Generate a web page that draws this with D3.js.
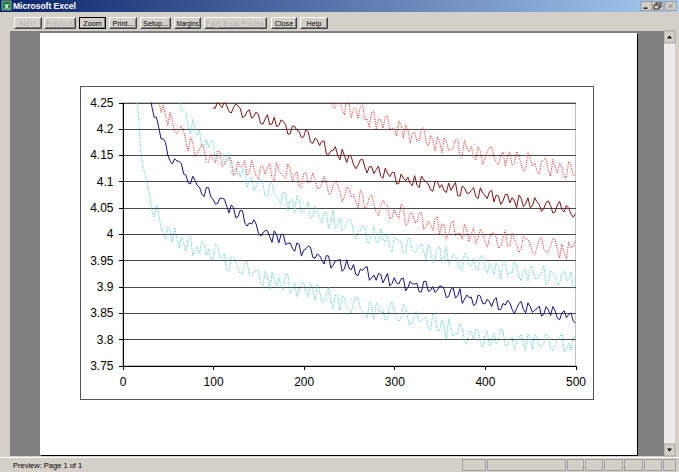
<!DOCTYPE html>
<html>
<head>
<meta charset="utf-8">
<script src="https://cdn.jsdelivr.net/npm/d3@7"></script>
<style>
  body { margin: 0; overflow: hidden; background: #d4d0c8; }
  svg { display: block; }
</style>
</head>
<body>
<svg id="win"></svg>
<script>
// ---- data ----
// every series: values at start, start+5, ... and the in-between values at start+2.5, start+7.5, ...
const step = 5;
const xTicks = [0, 100, 200, 300, 400, 500];
const yTicks = [3.75, 3.8, 3.85, 3.9, 3.95, 4, 4.05, 4.1, 4.15, 4.2, 4.25];
const yTickLabels = ["3.75", "3.8", "3.85", "3.9", "3.95", "4", "4.05", "4.1", "4.15", "4.2", "4.25"];

const navyStart = 30;
const navyValues = [4.276, 4.222, 4.203, 4.181, 4.150, 4.133, 4.139, 4.134, 4.112, 4.095,
  4.102, 4.089, 4.071, 4.088, 4.066, 4.058, 4.068, 4.053, 4.055, 4.031,
  4.045, 4.021, 4.021, 4.027, 4.002, 4.002, 4.006, 3.984, 3.999, 3.999,
  3.980, 3.983, 3.967, 3.980, 3.969, 3.977, 3.956, 3.962, 3.951, 3.959,
  3.935, 3.949, 3.952, 3.934, 3.935, 3.942, 3.921, 3.931, 3.938, 3.917,
  3.912, 3.923, 3.916, 3.901, 3.917, 3.905, 3.916, 3.898, 3.905, 3.906,
  3.890, 3.910, 3.893, 3.889, 3.901, 3.895, 3.881, 3.898, 3.883, 3.868,
  3.884, 3.880, 3.867, 3.882, 3.867, 3.871, 3.875, 3.856, 3.868, 3.874,
  3.857, 3.858, 3.872, 3.850, 3.862, 3.855, 3.863, 3.847, 3.856, 3.862,
  3.840, 3.850, 3.841, 3.850, 3.830];
const navyMid = [4.241, 4.222, 4.181, 4.174, 4.139, 4.143, 4.138, 4.114, 4.097, 4.110,
  4.092, 4.076, 4.088, 4.070, 4.057, 4.068, 4.066, 4.040, 4.050, 4.033,
  4.044, 4.015, 4.019, 4.019, 3.996, 4.007, 3.995, 4.006, 3.983, 3.999,
  3.982, 3.973, 3.983, 3.958, 3.972, 3.975, 3.954, 3.959, 3.943, 3.958,
  3.941, 3.949, 3.929, 3.951, 3.932, 3.923, 3.933, 3.936, 3.912, 3.922,
  3.925, 3.907, 3.925, 3.906, 3.907, 3.915, 3.892, 3.910, 3.905, 3.890,
  3.910, 3.891, 3.900, 3.893, 3.901, 3.879, 3.895, 3.878, 3.896, 3.876,
  3.879, 3.864, 3.884, 3.868, 3.876, 3.862, 3.879, 3.857, 3.865, 3.869,
  3.849, 3.868, 3.857, 3.869, 3.851, 3.858, 3.844, 3.862, 3.845, 3.854,
  3.837, 3.854, 3.847, 3.835];

const maroonStart = 100;
const maroonValues = [4.240, 4.254, 4.240, 4.244, 4.230, 4.248, 4.239, 4.224, 4.236, 4.224,
  4.227, 4.209, 4.227, 4.209, 4.204, 4.217, 4.208, 4.190, 4.205, 4.195,
  4.185, 4.194, 4.172, 4.179, 4.176, 4.152, 4.158, 4.166, 4.141, 4.149,
  4.150, 4.132, 4.131, 4.142, 4.116, 4.128, 4.122, 4.110, 4.125, 4.109,
  4.117, 4.096, 4.106, 4.108, 4.092, 4.093, 4.110, 4.099, 4.084, 4.100,
  4.088, 4.082, 4.097, 4.091, 4.073, 4.091, 4.078, 4.083, 4.071, 4.088,
  4.074, 4.080, 4.061, 4.072, 4.063, 4.075, 4.069, 4.050, 4.068, 4.057,
  4.050, 4.069, 4.056, 4.048, 4.063, 4.040, 4.055, 4.046, 4.054, 4.038,
  4.039];
const maroonMid = [4.239, 4.245, 4.253, 4.233, 4.240, 4.243, 4.221, 4.233, 4.220, 4.232,
  4.210, 4.219, 4.208, 4.222, 4.206, 4.214, 4.190, 4.205, 4.197, 4.183,
  4.199, 4.175, 4.182, 4.168, 4.177, 4.151, 4.159, 4.149, 4.161, 4.136,
  4.147, 4.124, 4.141, 4.127, 4.128, 4.115, 4.129, 4.106, 4.116, 4.117,
  4.095, 4.114, 4.101, 4.096, 4.111, 4.088, 4.103, 4.095, 4.081, 4.100,
  4.094, 4.079, 4.083, 4.098, 4.072, 4.088, 4.077, 4.088, 4.067, 4.078,
  4.067, 4.083, 4.074, 4.056, 4.075, 4.059, 4.063, 4.074, 4.052, 4.069,
  4.054, 4.061, 4.043, 4.060, 4.054, 4.042, 4.062, 4.042, 4.049, 4.032];

const redUpperStart = 230;
const redUpperValues = [4.272, 4.240, 4.250, 4.226, 4.249, 4.238, 4.219, 4.245, 4.219, 4.232,
  4.200, 4.218, 4.222, 4.198, 4.200, 4.215, 4.182, 4.200, 4.191, 4.176,
  4.200, 4.176, 4.188, 4.158, 4.175, 4.183, 4.158, 4.163, 4.181, 4.149,
  4.165, 4.166, 4.140, 4.157, 4.144, 4.164, 4.147, 4.131, 4.156, 4.148,
  4.131, 4.157, 4.134, 4.123, 4.143, 4.135, 4.114, 4.142, 4.122, 4.142,
  4.116, 4.126, 4.107, 4.130, 4.113];
const redUpperMid = [4.240, 4.258, 4.237, 4.259, 4.221, 4.239, 4.242, 4.217, 4.203, 4.234,
  4.218, 4.201, 4.225, 4.201, 4.186, 4.207, 4.208, 4.173, 4.194, 4.177,
  4.202, 4.167, 4.179, 4.184, 4.154, 4.176, 4.161, 4.179, 4.148, 4.178,
  4.156, 4.147, 4.166, 4.132, 4.156, 4.166, 4.136, 4.149, 4.129, 4.156,
  4.134, 4.148, 4.119, 4.155, 4.129, 4.120, 4.139, 4.144, 4.110, 4.128,
  4.135, 4.108, 4.138, 4.111];

const redLowerStart = 40;
const redLowerValues = [4.257, 4.245, 4.206, 4.215, 4.191, 4.205, 4.174, 4.184, 4.147, 4.162,
  4.163, 4.137, 4.141, 4.158, 4.127, 4.139, 4.143, 4.114, 4.127, 4.140,
  4.117, 4.126, 4.105, 4.129, 4.126, 4.107, 4.136, 4.114, 4.106, 4.125,
  4.113, 4.090, 4.115, 4.097, 4.116, 4.086, 4.096, 4.099, 4.076, 4.101,
  4.080, 4.071, 4.087, 4.075, 4.050, 4.075, 4.054, 4.074, 4.041, 4.053,
  4.057, 4.029, 4.047, 4.029, 4.050, 4.019, 4.040, 4.022, 4.041, 4.013,
  4.018, 4.030, 3.998, 4.018, 3.999, 4.025, 4.001, 3.990, 4.008, 4.001,
  3.982, 4.009, 3.986, 3.991, 4.002, 3.973, 3.993, 3.977, 4.002, 3.981,
  3.970, 3.991, 3.982, 3.961, 3.990, 3.971, 3.967, 3.991, 3.971, 3.981,
  3.952, 3.974, 3.988];
const redLowerMid = [4.231, 4.225, 4.231, 4.194, 4.198, 4.196, 4.158, 4.174, 4.153, 4.171,
  4.137, 4.152, 4.135, 4.156, 4.132, 4.145, 4.111, 4.138, 4.129, 4.111,
  4.141, 4.110, 4.128, 4.114, 4.134, 4.101, 4.120, 4.110, 4.133, 4.099,
  4.119, 4.088, 4.117, 4.099, 4.104, 4.087, 4.110, 4.076, 4.093, 4.093,
  4.061, 4.089, 4.070, 4.061, 4.084, 4.048, 4.069, 4.057, 4.035, 4.064,
  4.054, 4.031, 4.035, 4.057, 4.016, 4.040, 4.022, 4.040, 4.008, 4.024,
  4.007, 4.033, 4.019, 3.991, 4.020, 3.997, 4.001, 4.019, 3.985, 4.012,
  3.991, 4.002, 3.975, 4.002, 3.993, 3.976, 4.007, 3.978, 3.990, 3.965,
  3.996, 3.990, 3.964, 3.975, 3.994, 3.965, 3.978, 3.990, 3.954, 3.964,
  3.985, 3.977];

const cyanUpperStart = 60;
const cyanUpperValues = [4.278, 4.235, 4.232, 4.190, 4.199, 4.198, 4.166, 4.165, 4.178, 4.140,
  4.151, 4.146, 4.115, 4.126, 4.108, 4.123, 4.102, 4.082, 4.104, 4.093,
  4.073, 4.096, 4.071, 4.058, 4.075, 4.064, 4.040, 4.066, 4.044, 4.061,
  4.033, 4.041, 4.021, 4.041, 4.023, 4.010, 4.030, 4.011, 4.029, 4.000,
  4.004, 4.016, 3.983, 4.003, 3.984, 4.010, 3.986, 3.975, 3.993, 3.985,
  3.965, 3.991, 3.968, 3.971, 3.981, 3.951, 3.970, 3.952, 3.977, 3.954,
  3.942, 3.962, 3.953, 3.931, 3.959, 3.939, 3.934, 3.957, 3.936, 3.945,
  3.923, 3.936, 3.950, 3.921, 3.926, 3.939, 3.911, 3.931, 3.938, 3.916,
  3.921, 3.940, 3.908, 3.925, 3.903, 3.926, 3.912, 3.928, 3.903];
const cyanUpperMid = [4.266, 4.233, 4.203, 4.218, 4.187, 4.165, 4.180, 4.177, 4.138, 4.154,
  4.133, 4.153, 4.114, 4.121, 4.123, 4.089, 4.108, 4.090, 4.105, 4.071,
  4.099, 4.075, 4.064, 4.081, 4.044, 4.066, 4.073, 4.041, 4.051, 4.029,
  4.054, 4.030, 4.042, 4.011, 4.046, 4.017, 4.006, 4.022, 4.026, 3.990,
  4.006, 4.012, 3.984, 4.014, 3.985, 3.988, 4.000, 3.966, 3.992, 3.986,
  3.963, 3.993, 3.964, 3.977, 3.966, 3.980, 3.945, 3.972, 3.946, 3.976,
  3.949, 3.955, 3.933, 3.963, 3.940, 3.952, 3.931, 3.959, 3.925, 3.939,
  3.945, 3.914, 3.945, 3.928, 3.947, 3.920, 3.932, 3.911, 3.938, 3.914,
  3.928, 3.903, 3.930, 3.921, 3.905, 3.931, 3.912, 3.896];

const cyanLowerStart = 15;
const cyanLowerValues = [4.262, 4.158, 4.114, 4.074, 4.033, 4.038, 4.002, 4.013, 3.984, 3.993,
  3.995, 3.967, 3.996, 3.969, 3.963, 3.982, 3.972, 3.951, 3.979, 3.955,
  3.932, 3.956, 3.948, 3.925, 3.947, 3.922, 3.928, 3.933, 3.901, 3.920,
  3.927, 3.901, 3.902, 3.923, 3.888, 3.908, 3.895, 3.907, 3.881, 3.896,
  3.904, 3.870, 3.885, 3.872, 3.885, 3.855, 3.879, 3.855, 3.869, 3.879,
  3.852, 3.840, 3.862, 3.869, 3.848, 3.837, 3.862, 3.853, 3.834, 3.867,
  3.839, 3.832, 3.852, 3.835, 3.843, 3.816, 3.844, 3.817, 3.825, 3.838,
  3.805, 3.810, 3.821, 3.790, 3.814, 3.820, 3.796, 3.806, 3.787, 3.812,
  3.798, 3.817, 3.788, 3.803, 3.791, 3.809, 3.778, 3.803, 3.810, 3.786,
  3.791, 3.807, 3.778, 3.798, 3.811, 3.783, 3.778, 3.799];
const cyanLowerMid = [4.234, 4.126, 4.094, 4.043, 4.055, 4.012, 3.990, 4.005, 4.012, 3.973,
  3.982, 3.991, 3.959, 3.976, 3.986, 3.959, 3.952, 3.981, 3.954, 3.963,
  3.929, 3.956, 3.936, 3.924, 3.948, 3.920, 3.929, 3.905, 3.930, 3.895,
  3.913, 3.917, 3.894, 3.923, 3.895, 3.881, 3.907, 3.890, 3.906, 3.874,
  3.892, 3.874, 3.899, 3.858, 3.879, 3.883, 3.860, 3.850, 3.880, 3.859,
  3.848, 3.871, 3.837, 3.862, 3.855, 3.839, 3.870, 3.840, 3.842, 3.861,
  3.827, 3.850, 3.833, 3.838, 3.820, 3.849, 3.816, 3.836, 3.801, 3.823,
  3.813, 3.830, 3.796, 3.815, 3.799, 3.816, 3.785, 3.816, 3.799, 3.791,
  3.820, 3.787, 3.801, 3.780, 3.805, 3.791, 3.810, 3.781, 3.804, 3.788,
  3.811, 3.781, 3.789, 3.803, 3.776, 3.792, 3.807];

const toolbarLabels = ["Next", "Previous", "Zoom", "Print...", "Setup...", "Margins", "Page Break Preview", "Close", "Help"];
const toolbarDisabled = [true, true, false, false, false, false, true, false, false];

// ---- window chrome ----
const W = 679, H = 472;
const svg = d3.select("#win").attr("width", W).attr("height", H)
  .style("font-family", "'Liberation Sans', Arial, sans-serif");

svg.append("rect").attr("width", W).attr("height", H).attr("fill", "#d4d0c8");

// title bar gradient
const defs = svg.append("defs");
const grad = defs.append("linearGradient").attr("id", "titleGrad");
grad.append("stop").attr("offset", "0%").attr("stop-color", "#0a246a");
grad.append("stop").attr("offset", "100%").attr("stop-color", "#a6caf0");
svg.append("rect").attr("x", 0).attr("y", 0).attr("width", W).attr("height", 12)
  .attr("fill", "url(#titleGrad)");

// excel icon
svg.append("rect").attr("x", 2).attr("y", 1).attr("width", 9).attr("height", 9)
  .attr("fill", "#1d7a3a").attr("stroke", "#cfe8d4").attr("stroke-width", 0.6);
svg.append("text").attr("x", 6.5).attr("y", 8.6).attr("text-anchor", "middle")
  .attr("font-size", 7).attr("font-weight", "bold").attr("fill", "#fff").text("X");
svg.append("text").attr("x", 13).attr("y", 9).attr("font-size", 8.5)
  .attr("font-weight", "bold").attr("fill", "#fff").text("Microsoft Excel");

// window buttons
const winBtns = [641, 652, 665];
winBtns.forEach((bx, i) => {
  const g = svg.append("g").attr("transform", `translate(${bx},1.5)`);
  g.append("rect").attr("width", 11).attr("height", 9).attr("fill", "#d4d0c8")
    .attr("stroke", "#808080").attr("stroke-width", 0.6);
  if (i === 0) g.append("rect").attr("x", 2.5).attr("y", 6).attr("width", 4).attr("height", 1.3).attr("fill", "#000");
  if (i === 1) {
    g.append("rect").attr("x", 4).attr("y", 1.5).attr("width", 5).attr("height", 4).attr("fill", "none").attr("stroke", "#000").attr("stroke-width", 0.8);
    g.append("rect").attr("x", 2).attr("y", 3.5).attr("width", 5).attr("height", 4).attr("fill", "#d4d0c8").attr("stroke", "#000").attr("stroke-width", 0.8);
  }
  if (i === 2) g.append("path").attr("d", "M3,2L8,7M8,2L3,7").attr("stroke", "#808080").attr("stroke-width", 1);
});

// toolbar buttons
const btnX = [14, 44, 79, 109, 140, 174, 204, 271, 300];
const btnW = [28, 32, 27, 28, 31, 27, 63, 26, 28];
toolbarLabels.forEach((label, i) => {
  const g = svg.append("g").attr("transform", `translate(${btnX[i]},17)`);
  const w = btnW[i], h = 12;
  g.append("rect").attr("width", w).attr("height", h).attr("fill", "#d4d0c8");
  g.append("path").attr("d", `M0.5,${h - 0.5}V0.5H${w - 0.5}`).attr("fill", "none").attr("stroke", "#fff");
  g.append("path").attr("d", `M0.5,${h - 0.5}H${w - 0.5}V0.5`).attr("fill", "none").attr("stroke", "#404040");
  g.append("path").attr("d", `M1.5,${h - 1.5}H${w - 1.5}V1.5`).attr("fill", "none").attr("stroke", "#808080");
  if (label === "Zoom") {
    g.append("rect").attr("x", 0.5).attr("y", 0.5).attr("width", w - 1).attr("height", h - 1)
      .attr("fill", "none").attr("stroke", "#000");
  }
  const layers = toolbarDisabled[i]
    ? [{ dx: 0.6, dy: 0.6, fill: "#fff" }, { dx: 0, dy: 0, fill: "#a0a0a0" }]
    : [{ dx: 0, dy: 0, fill: "#000" }];
  layers.forEach(l => {
    const t = g.append("text").attr("x", w / 2 + l.dx).attr("y", 8.6 + l.dy)
      .attr("text-anchor", "middle").attr("font-size", 7.2).attr("fill", l.fill).text(label);
    // squeeze labels that are wider than their button
    if (t.node().getComputedTextLength() > w - 5) {
      t.attr("textLength", w - 5).attr("lengthAdjust", "spacingAndGlyphs");
    }
  });
});

// preview background and page
svg.append("rect").attr("x", 10).attr("y", 31).attr("width", 654).attr("height", 425).attr("fill", "#808080");
svg.append("rect").attr("x", 41).attr("y", 34).attr("width", 597).attr("height", 422).attr("fill", "#000");
svg.append("rect").attr("x", 40).attr("y", 33).attr("width", 597).attr("height", 422).attr("fill", "#fff");

// vertical scroll bar
svg.append("rect").attr("x", 664).attr("y", 31).attr("width", 11).attr("height", 425).attr("fill", "#ecebe7");
[31, 444].forEach((sy, i) => {
  const g = svg.append("g").attr("transform", `translate(664,${sy})`);
  g.append("rect").attr("width", 11).attr("height", 12).attr("fill", "#d4d0c8")
    .attr("stroke", "#808080").attr("stroke-width", 0.6);
  g.append("path").attr("d", i === 0 ? "M3,7.5L5.5,4.5L8,7.5Z" : "M3,4.5L5.5,7.5L8,4.5Z").attr("fill", "#000");
});

// status bar
svg.append("line").attr("x1", 0).attr("x2", W).attr("y1", 457.5).attr("y2", 457.5).attr("stroke", "#fff");
svg.append("text").attr("x", 13).attr("y", 468).attr("font-size", 7.5).attr("fill", "#000").text("Preview: Page 1 of 1");
const panelX = [462, 487, 567, 585, 604, 624, 644, 663];
panelX.forEach((px, i) => {
  const pw = (i < panelX.length - 1 ? panelX[i + 1] : 677) - px - 2;
  svg.append("rect").attr("x", px + 0.5).attr("y", 459.5).attr("width", pw).attr("height", 11)
    .attr("fill", "none").attr("stroke", "#a0a0a0");
});

// ---- the chart ----
const chart = { left: 80, top: 86, right: 593, bottom: 399 };
const plot = { left: 122.5, top: 102.5, right: 575.5, bottom: 365.5 };

svg.append("rect").attr("x", chart.left + 0.5).attr("y", chart.top + 0.5)
  .attr("width", chart.right - chart.left).attr("height", chart.bottom - chart.top)
  .attr("fill", "#fff").attr("stroke", "#555").attr("stroke-width", 1);

const x = d3.scaleLinear().domain([0, 500]).range([plot.left, plot.right]);
const y = d3.scaleLinear().domain([3.75, 4.25]).range([plot.bottom, plot.top]);

// plot area border (light)
svg.append("rect").attr("x", plot.left).attr("y", plot.top)
  .attr("width", plot.right - plot.left).attr("height", plot.bottom - plot.top)
  .attr("fill", "#fff").attr("stroke", "#c0c0c0").attr("shape-rendering", "crispEdges");

// horizontal gridlines
svg.append("g").selectAll("line")
  .data(yTicks.filter(d => d > 3.75))
  .join("line")
  .attr("x1", plot.left).attr("x2", plot.right)
  .attr("y1", d => Math.round(y(d)) + 0.5).attr("y2", d => Math.round(y(d)) + 0.5)
  .attr("stroke", "#4a4a4a").attr("shape-rendering", "crispEdges");

// series: main values and the in-between values woven together
const weave = (start, main, mid) => main.flatMap((v, i) => {
  const pts = [{ x: start + i * step, y: v }];
  if (i < mid.length) pts.push({ x: start + i * step + step / 2, y: mid[i] });
  return pts;
});

const series = [
  { pts: weave(cyanLowerStart, cyanLowerValues, cyanLowerMid), color: "#3cc8c8", dash: "1,1.3" },
  { pts: weave(cyanUpperStart, cyanUpperValues, cyanUpperMid), color: "#3cc8c8", dash: "1,1.3" },
  { pts: weave(redLowerStart, redLowerValues, redLowerMid), color: "#ee1c1c", dash: "1,1.3" },
  { pts: weave(redUpperStart, redUpperValues, redUpperMid), color: "#ee1c1c", dash: "1,1.3" },
  { pts: weave(maroonStart, maroonValues, maroonMid), color: "#7d1414", dash: null },
  { pts: weave(navyStart, navyValues, navyMid), color: "#14147d", dash: null }
];

defs.append("clipPath").attr("id", "plotClip")
  .append("rect").attr("x", plot.left).attr("y", plot.top)
  .attr("width", plot.right - plot.left).attr("height", plot.bottom - plot.top);

const line = d3.line().x(d => x(d.x)).y(d => y(d.y));

svg.append("g").attr("clip-path", "url(#plotClip)")
  .selectAll("path")
  .data(series)
  .join("path")
  .attr("d", s => line(s.pts))
  .attr("fill", "none")
  .attr("stroke", s => s.color)
  .attr("stroke-width", 1)
  .attr("stroke-dasharray", s => s.dash)
  .attr("stroke-linejoin", "round");

// axes
const yAxis = d3.axisLeft(y).tickValues(yTicks).tickSize(4).tickPadding(5)
  .tickFormat((d, i) => yTickLabels[i]);
const xAxis = d3.axisBottom(x).tickValues(xTicks).tickSize(4).tickPadding(8)
  .tickFormat(d3.format("d"));

const gy = svg.append("g").attr("transform", `translate(${plot.left},0)`).call(yAxis);
const gx = svg.append("g").attr("transform", `translate(0,${plot.bottom})`).call(xAxis);

[gx, gy].forEach(g => {
  g.select(".domain").attr("stroke", "#000").attr("shape-rendering", "crispEdges");
  g.selectAll(".tick line").attr("stroke", "#000").attr("shape-rendering", "crispEdges");
  g.selectAll(".tick text").attr("fill", "#000")
    .style("font-family", "'Liberation Sans', Arial, sans-serif").style("font-size", "12px");
});
</script>
</body>
</html>
